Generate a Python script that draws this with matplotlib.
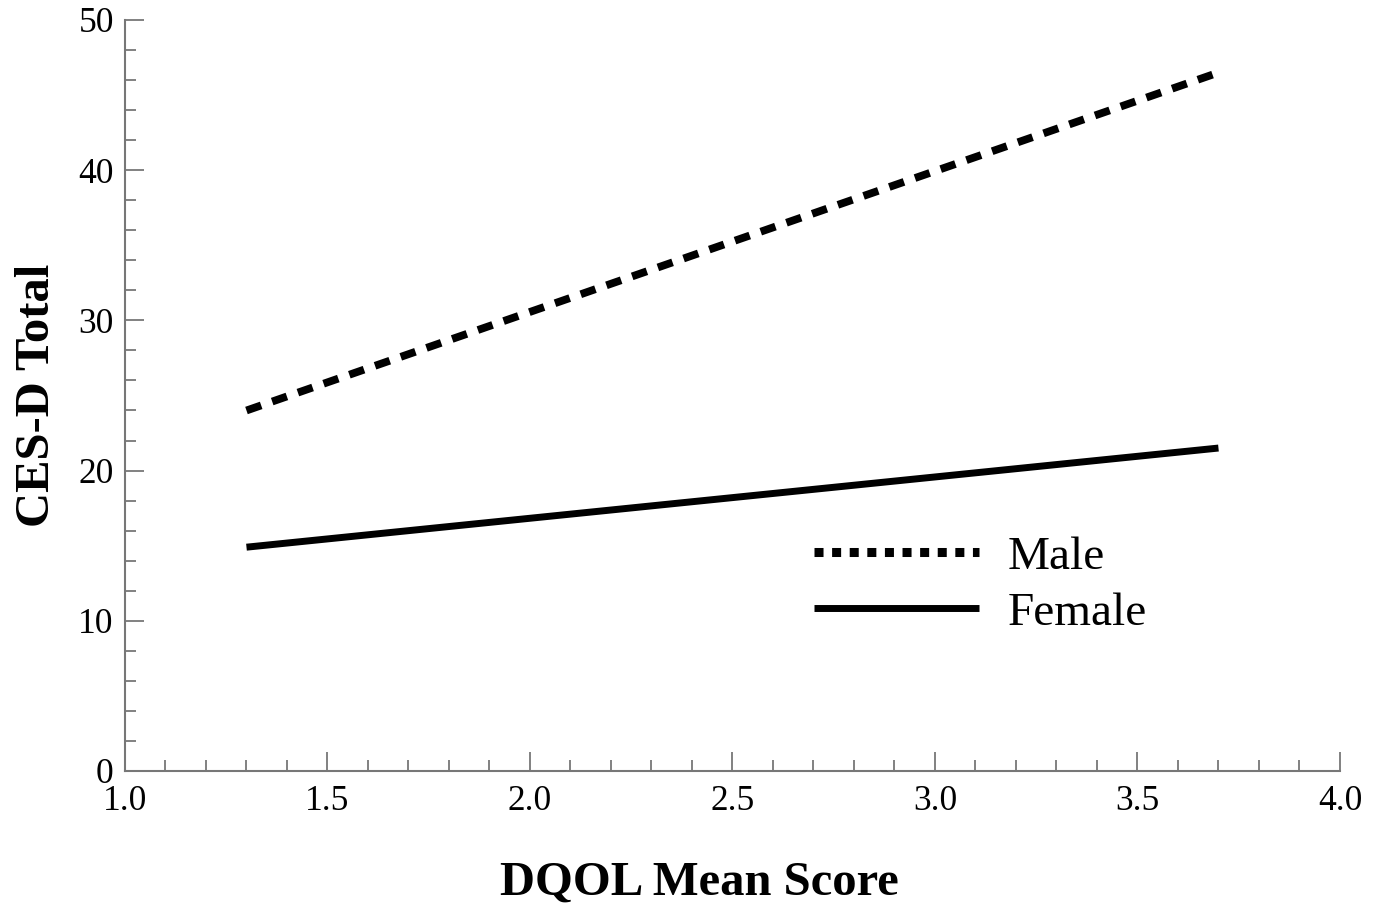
import matplotlib.pyplot as plt
from matplotlib.lines import Line2D
from matplotlib.ticker import MultipleLocator

# data
dqol = [1.3, 3.7]
male_cesd = [24.0, 46.5]
female_cesd = [14.9, 21.5]

plt.rcParams['font.family'] = ['Liberation Serif', 'DejaVu Serif']

fig = plt.figure(figsize=(13.78, 9.08), dpi=100)
ax = fig.add_axes([0.0907, 0.1509, 0.8817, 0.8271])

lw = 5.6
ax.plot(dqol, male_cesd, color='black', lw=lw, dashes=(2.0, 1.5),
        dash_capstyle='butt', solid_capstyle='butt')
ax.plot(dqol, female_cesd, color='black', lw=lw - 0.6, solid_capstyle='butt')

ax.set_xlim(1.0, 4.0)
ax.set_ylim(0, 50)
ax.xaxis.set_major_locator(MultipleLocator(0.5))
ax.xaxis.set_minor_locator(MultipleLocator(0.1))
ax.yaxis.set_major_locator(MultipleLocator(10))
ax.yaxis.set_minor_locator(MultipleLocator(2))
ax.xaxis.set_major_formatter(plt.FormatStrFormatter('%.1f'))

grey = '#777777'
for side in ['top', 'right']:
    ax.spines[side].set_visible(False)
for side in ['left', 'bottom']:
    ax.spines[side].set_color(grey)
    ax.spines[side].set_linewidth(1.5)

ax.tick_params(which='both', direction='in', color=grey, width=1.3)
ax.tick_params(which='major', length=14, labelsize=25.5, pad=10)
ax.tick_params(which='minor', length=8)
ax.tick_params(axis='y', which='major', pad=8)

ax.set_xlabel('DQOL Mean Score', fontsize=35, fontweight='bold')
ax.set_ylabel('CES-D Total', fontsize=35, fontweight='bold')
ax.xaxis.set_label_coords(0.473, -0.149)
ax.xaxis.label.set_va('center')
ax.yaxis.set_label_coords(-0.0722, 0.5)
ax.yaxis.label.set_va('center')

handles = [
    Line2D([], [], color='black', lw=6.5, dashes=(1.0, 0.95), dash_capstyle='butt'),
    Line2D([], [], color='black', lw=5.0, solid_capstyle='butt'),
]
ax.legend(handles, ['Male', 'Female'], loc='upper left',
          bbox_to_anchor=(0.532, 0.37), frameon=False, fontsize=34,
          handlelength=3.5, handletextpad=0.6, labelspacing=0.28)

fig.savefig('out.png', dpi=100)
